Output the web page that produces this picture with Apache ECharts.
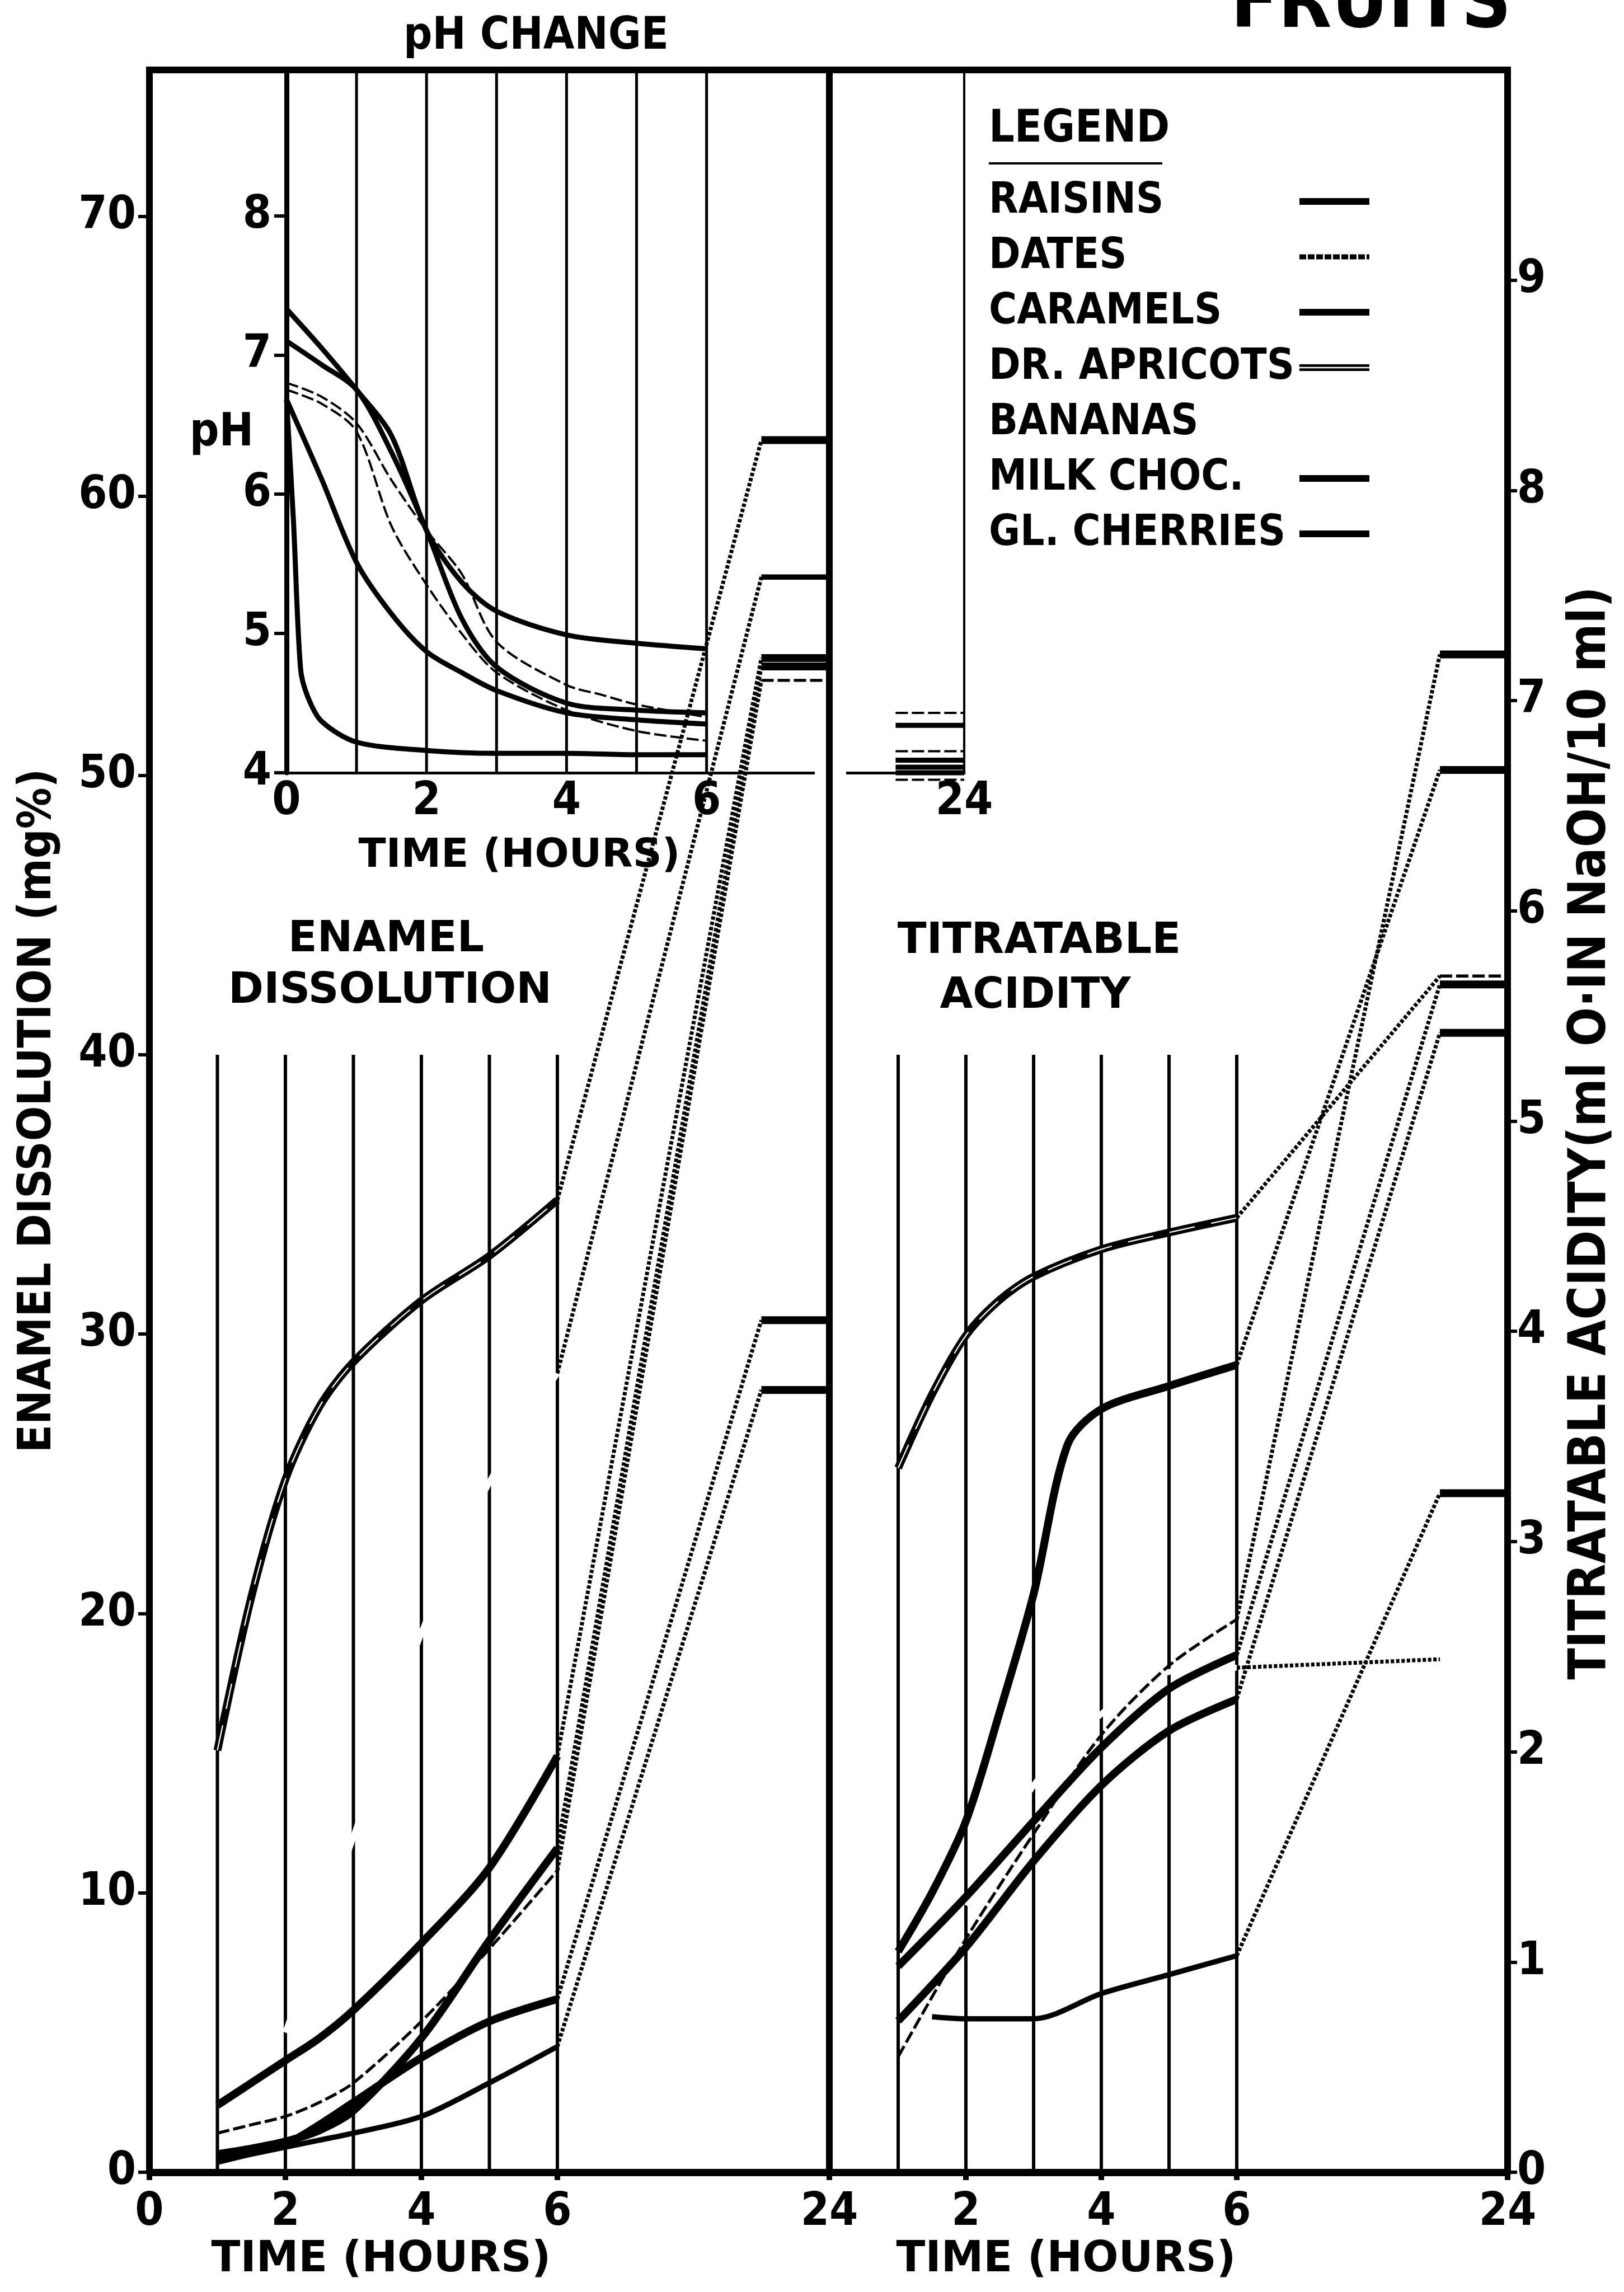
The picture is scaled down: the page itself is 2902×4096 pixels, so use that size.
<!DOCTYPE html>
<html><head><meta charset="utf-8">
<script src="https://cdn.jsdelivr.net/npm/echarts@6/dist/echarts.min.js"></script>
<style>html,body{margin:0;padding:0;background:#fff;overflow:hidden}#chart{width:2902px;height:4096px}</style>
</head><body><div id="chart"></div>
<script>
// ================= DATA =================
const fruits = ['RAISINS', 'DATES', 'CARAMELS', 'DR. APRICOTS', 'BANANAS', 'MILK CHOC.', 'GL. CHERRIES'];

// pH change (pH vs hours); 24-hour values separately
const phHours    = [0, 0.1, 0.2, 0.3, 0.5, 1, 1.5, 2, 2.5, 3, 4, 4.5, 5, 6];
const phRaisins  = [7.33, null, null, null, 7.05, 6.75, 6.42, 5.74, 5.37, 5.16, 4.99, null, 4.93, 4.89];
const phDates    = [6.75, null, null, null, 6.65, 6.45, 5.77, 5.35, 5.00, 4.72, 4.45, null, 4.30, 4.23];
const phCaramels = [7.10, null, null, null, 6.93, 6.75, 6.30, 5.74, 5.11, 4.76, 4.50, null, 4.45, 4.43];
const phApricots = [6.80, null, null, null, 6.70, 6.51, 6.10, 5.74, 5.43, 4.94, 4.63, 4.56, 4.49, 4.40];
const phBananas  = [null, null, null, null, null, null, null, null, null, null, null, null, null, null];
const phMilkChoc = [6.68, null, null, null, 6.11, 5.51, 5.14, 4.87, 4.72, 4.59, 4.43, null, 4.38, 4.35];
const phCherries = [6.68, 5.80, 4.75, 4.55, 4.37, 4.22, null, 4.16, null, 4.14, 4.14, null, 4.13, 4.13];
const ph24       = [4.34, 4.155, 4.09, 4.43, 3.95, 4.04, 4.00];

// Enamel dissolution (mg%)
const enHours    = [1, 1.5, 2, 2.5, 3, 4, 5, 6];
const enRaisins  = [2.4, 3.2, 4.0, 4.8, 5.8, 8.2, 10.9, 14.9];
const enDates    = [1.4, 1.7, 2.0, 2.5, 3.2, 5.4, 8.0, 10.8];
const enCaramels = [0.65, 0.85, 1.1, 1.5, 2.2, 4.8, 8.3, 11.6];
const enApricots = [15.1, 20.6, 24.8, 27.4, 29.0, 31.2, 32.8, 34.8];
const enBananas  = [null, null, 5.0, null, 12.0, 19.3, 24.7, 28.6];
const enMilkChoc = [0.4, 0.7, 1.0, 1.7, 2.5, 4.1, 5.4, 6.2];
const enCherries = [0.4, 0.65, 0.9, 1.15, 1.4, 2.0, 3.2, 4.5];
const en24       = [54.2, 53.4, 53.9, 62.0, 57.1, 30.5, 28.0];

// Titratable acidity (ml 0.1N NaOH / 10 ml)
const taHours    = [1, 1.5, 2, 2.5, 3, 3.5, 4, 5, 6];
const taRaisins  = [1.05, 1.33, 1.67, 2.19, 2.75, 3.46, 3.63, 3.74, 3.84];
const taDates    = [0.55, null, 1.11, null, 1.61, null, 2.08, 2.41, 2.63];
const taCaramels = [0.98, null, 1.31, null, 1.67, null, 2.02, 2.30, 2.46];
const taApricots = [3.35, 3.70, 3.98, 4.15, 4.26, null, 4.39, 4.47, 4.54];
const taBananas  = [null, null, 1.27, null, 1.84, null, 2.18, 2.38, 2.40];
const taMilkChoc = [0.72, null, 1.07, null, 1.48, null, 1.84, 2.10, 2.25];
const taCherries = [null, 0.74, 0.73, null, 0.73, null, 0.85, 0.94, 1.03];
const ta24       = [6.67, 7.22, 5.65, 5.69, 2.44, 5.42, 3.23];

// tick labels
const enXTicks = [0, 2, 4, 6, 24];
const taXTicks = [2, 4, 6, 24];
const phXTicks = [0, 2, 4, 6, 24];
const enYTicks = [0, 10, 20, 30, 40, 50, 60, 70];
const taYTicks = [0, 1, 2, 3, 4, 5, 6, 7, 8, 9];
const phYTicks = [4, 5, 6, 7, 8];
const gridHours = [1, 2, 3, 4, 5, 6];

// ================= LAYOUT / STYLE =================
const FONT = "'DejaVu Sans Condensed', 'DejaVu Sans', sans-serif";
const WIDE = "'DejaVu Sans', sans-serif";
const NUM = "'DejaVu Sans Condensed', 'DejaVu Sans', sans-serif";
const EN_MAX = 75.25, TA_MAX = 10.0, PH_MIN = 4, PH_MAX = 9.046;
const EN_GRID_TOP = 40;                       // lower-panel hour lines stop at 40 mg%
const TA_GRID_TOP = EN_GRID_TOP * TA_MAX / EN_MAX;
const P = {
  en: {xi: 0, yi: 0, pos24: 10, barStart: 9, connect: true, w: 14, hours: enHours,
       vals: [enRaisins, enDates, enCaramels, enApricots, enBananas, enMilkChoc, enCherries], v24: en24,
       gridLow: 0, gridHigh: EN_GRID_TOP},
  ta: {xi: 1, yi: 1, pos24: 10, barStart: 9, connect: true, w: 14, hours: taHours,
       vals: [taRaisins, taDates, taCaramels, taApricots, taBananas, taMilkChoc, taCherries], v24: ta24,
       gridLow: 0, gridHigh: TA_GRID_TOP},
  ph: {xi: 2, yi: 2, pos24: 9.68, barStart: 8.7, connect: false, w: 9, hours: phHours,
       vals: [phRaisins, phDates, phCaramels, phApricots, phBananas, phMilkChoc, phCherries], v24: ph24,
       gridLow: PH_MIN, gridHigh: PH_MAX}
};
const curveKinds = {
  en: {'RAISINS':'thick','DATES':'thin','CARAMELS':'thick','DR. APRICOTS':'double','BANANAS':'white','MILK CHOC.':'thick','GL. CHERRIES':'medium'},
  ta: {'RAISINS':'thick','DATES':'thin','CARAMELS':'thick','DR. APRICOTS':'double','BANANAS':'white','MILK CHOC.':'thick','GL. CHERRIES':'medium'},
  ph: {'RAISINS':'thick','DATES':'thin','CARAMELS':'thick','DR. APRICOTS':'thin','BANANAS':'white','MILK CHOC.':'thick','GL. CHERRIES':'thick'}
};
const barKinds = {
  en: {'DATES':'thin','BANANAS':'medium'},
  ta: {'DR. APRICOTS':'thin','BANANAS':'none'},
  ph: {'DATES':'thin','DR. APRICOTS':'thin','BANANAS':'thin'}
};
function kindStyles(kind, w) {
  switch (kind) {
    case 'thick':  return [{color:'#000', width:w}];
    case 'medium': return [{color:'#000', width:w*0.68}];
    case 'thin':   return [{color:'#000', width:Math.max(4, w*0.38), type:[22, 7]}];
    case 'double': return [{color:'#000', width:w}, {color:'#fff', width:Math.max(2, w*0.16), type:[46, 30]}];
    case 'white':  return [{color:'#fff', width:w*0.75}];
    default: return [];
  }
}
function pts(hours, vals) {
  const out = [];
  hours.forEach((h, i) => { if (vals[i] != null) out.push([h, vals[i]]); });
  return out;
}
function lastVal(hours, vals) {
  for (let i = vals.length - 1; i >= 0; i--) if (vals[i] != null) return [hours[i], vals[i]];
  return null;
}
const series = [];
function addLine(data, p, style, z, extra) {
  series.push(Object.assign({
    type: 'line', data, xAxisIndex: p.xi, yAxisIndex: p.yi, showSymbol: false, symbol: 'none',
    silent: true, animation: false, clip: false, z, lineStyle: style
  }, extra || {}));
}
Object.keys(P).forEach(key => {
  const p = P[key];
  // hour lines
  gridHours.forEach(h => addLine([[h, p.gridLow], [h, p.gridHigh]], p, {color:'#000', width: key === 'ph' ? 5 : 6}, 1));
  fruits.forEach((f, i) => {
    const d = pts(p.hours, p.vals[i]);
    if (d.length) {
      const kind = curveKinds[key][f];
      kindStyles(kind, p.w).forEach((st, k) =>
        addLine(d, p, st, kind === 'white' ? 2 : 3 + k, {smooth: 0.3}));
    }
    // 24-hour value
    const v24 = p.v24[i];
    if (p.connect) {
      const lv = lastVal(p.hours, p.vals[i]);
      if (lv) addLine([lv, [p.barStart, v24]], p, {color:'#000', width:7, type:[6, 3.5]}, 3);
    }
    const bk = barKinds[key][f] || 'thick';
    if (bk !== 'none') {
      kindStyles(bk, p.w).forEach((st, k) =>
        addLine([[p.barStart, v24], [p.pos24, v24]], p, st, 3 + k));
    }
  });
});

const labelStyle = {color:'#000', fontFamily: NUM, fontWeight: 'bold', fontSize: 82};
function xAxis(gi, max, ticks, pos24, opts) {
  const cv = ticks.map(t => t === 24 ? pos24 : t);
  return Object.assign({
    gridIndex: gi, type: 'value', min: 0, max: max,
    axisLine: {show: true, onZero: false, lineStyle: {color:'#000', width: 13}},
    axisTick: {show: true, customValues: cv, length: 14, lineStyle: {color:'#000', width: 10}},
    axisLabel: Object.assign({customValues: cv, margin: 32, formatter: v => (v > 8 ? '24' : String(v))}, labelStyle),
    splitLine: {show: false}
  }, opts || {});
}
function yAxis(gi, min, max, ticks, pos, lw, tickLen, margin) {
  return {
    gridIndex: gi, type: 'value', min, max, position: pos,
    axisLine: {show: true, onZero: false, lineStyle: {color:'#000', width: lw}},
    axisTick: {show: true, customValues: ticks, length: tickLen, lineStyle: {color:'#000', width: 6}},
    axisLabel: Object.assign({customValues: ticks, margin}, labelStyle),
    splitLine: {show: false}
  };
}

const xAxes = [
  xAxis(0, 10, enXTicks, 10),
  xAxis(1, 10, taXTicks, 10),
  xAxis(2, P.ph.pos24, phXTicks, P.ph.pos24, {
    axisLine: {show: true, onZero: false, lineStyle: {color:'#000', width: 5}},
    axisTick: {show: false},
    axisLabel: Object.assign({customValues: phXTicks.map(t => t === 24 ? P.ph.pos24 : t), margin: 12,
      formatter: v => (v > 8 ? '24' : String(v))}, labelStyle)
  })
];
const yAxes = [
  yAxis(0, 0, EN_MAX, enYTicks, 'left', 12, 20, 24),
  yAxis(1, 0, TA_MAX, taYTicks, 'right', 12, 17, 17),
  yAxis(2, PH_MIN, PH_MAX, phYTicks, 'left', 9, 22, 27),
  {gridIndex: 2, type: 'value', min: PH_MIN, max: PH_MAX, position: 'right',
   axisLine: {show: true, onZero: false, lineStyle: {color:'#000', width: 4}},
   axisTick: {show: false}, axisLabel: {show: false}, splitLine: {show: false}}
];

// ---- texts & legend (graphic) ----
const graphics = [];
function txt(text, x, y, size, opts) {
  graphics.push(Object.assign({
    type: 'text', x, y, z: 60,
    style: Object.assign({text, fill:'#000', fontSize: size, fontFamily: FONT, fontWeight: 'bold',
      align: 'center', verticalAlign: 'middle'}, (opts && opts.style) || {})
  }, opts && opts.rotation != null ? {rotation: opts.rotation} : {}));
}
function seg(x1, y1, x2, y2, w, extra) {
  graphics.push({type: 'line', z: 61, shape: {x1, y1, x2, y2},
    style: Object.assign({stroke:'#000', lineWidth: w}, extra || {})});
}
// frame pieces
graphics.push({type: 'rect', z: 59, shape: {x: 1456, y: 1375, width: 56, height: 12}, style: {fill: '#fff'}});
seg(261, 125, 2700, 125, 12);
seg(1482, 122, 1482, 3888, 12);

txt('pH CHANGE', 958, 66, 80, {});
txt('FRUITS', 2450, 12, 138, {});
txt('ENAMEL', 690, 1680, 76, {style: {fontFamily: WIDE}});
txt('DISSOLUTION', 697, 1772, 76, {style: {fontFamily: WIDE}});
txt('TITRATABLE', 1857, 1683, 76, {style: {fontFamily: WIDE}});
txt('ACIDITY', 1850, 1781, 76, {style: {fontFamily: WIDE}});
txt('TIME (HOURS)', 681, 4039, 76, {style: {fontFamily: WIDE}});
txt('TIME (HOURS)', 1905, 4039, 76, {style: {fontFamily: WIDE}});
txt('TIME (HOURS)', 928, 1530, 72, {style: {fontFamily: WIDE}});
txt('pH', 396, 775, 82, {});
txt('ENAMEL DISSOLUTION (mg%)', 69, 1985, 82, {rotation: Math.PI / 2});
txt('TITRATABLE ACIDITY(ml O·IN NaOH/10 ml)', 2844, 2025, 92, {rotation: Math.PI / 2});

// legend
const LEG_X = 1767, LEG_Y0 = 360, LEG_STEP = 99, SAMPLE_X1 = 2322, SAMPLE_X2 = 2447;
const legendKinds = {'RAISINS':'thick','DATES':'textured','CARAMELS':'thick','DR. APRICOTS':'double','BANANAS':'none','MILK CHOC.':'thick','GL. CHERRIES':'thick'};
txt('LEGEND', LEG_X, 232, 80, {style: {align: 'left'}});
seg(LEG_X, 292, 2077, 292, 4);
fruits.forEach((f, i) => {
  const y = LEG_Y0 + i * LEG_STEP;
  txt(f, LEG_X, y, 76, {style: {align: 'left'}});
  const k = legendKinds[f];
  if (k === 'thick') seg(SAMPLE_X1, y, SAMPLE_X2, y, 12);
  else if (k === 'textured') seg(SAMPLE_X1, y, SAMPLE_X2, y, 9, {lineDash: [12, 3]});
  else if (k === 'double') { seg(SAMPLE_X1, y, SAMPLE_X2, y, 12); seg(SAMPLE_X1, y, SAMPLE_X2, y, 2.5, {stroke:'#fff'}); }
});

const chart = echarts.init(document.getElementById('chart'), null, {renderer: 'canvas'});
chart.setOption({
  backgroundColor: '#fff',
  animation: false,
  grid: [
    {left: 267, top: 125, width: 1215, height: 3757},
    {left: 1484, top: 125, width: 1210, height: 3757},
    {left: 512, top: 125, width: 1211, height: 1256}
  ],
  xAxis: xAxes,
  yAxis: yAxes,
  series: series,
  graphic: {elements: graphics}
});
</script></body></html>
